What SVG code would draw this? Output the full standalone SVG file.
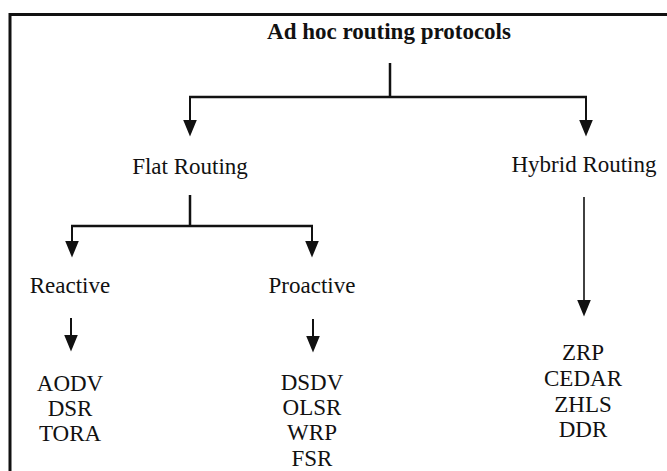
<svg xmlns="http://www.w3.org/2000/svg" width="667" height="471" viewBox="0 0 667 471">
  <style>
    .t { font-family: 'Liberation Serif', Tinos, 'Times New Roman', Times, 'Nimbus Roman', 'DejaVu Serif', serif; font-size: 23px; fill: #111; text-anchor: middle; }
    .b { font-weight: bold; }
    .ln { fill: none; stroke: #111; stroke-width: 2; marker-end: url(#ah); }
    .bar { fill: none; stroke: #111; stroke-width: 2.5; }
  </style>
  <defs>
    <!-- downward filled arrowhead; its base sits on the end of the line -->
    <marker id="ah" viewBox="0 0 14 17" markerWidth="14" markerHeight="17" refX="7" refY="0.5" orient="0" markerUnits="userSpaceOnUse">
      <path d="M0,0 L14,0 L7,17 Z" fill="#111"/>
    </marker>
  </defs>
  <rect width="667" height="471" fill="#fff"/>

  <!-- outer frame (runs off the right and bottom edges) -->
  <path d="M10,471 V14.5 H667" fill="none" stroke="#111" stroke-width="3"/>

  <g id="connectors">
    <!-- root to first level -->
    <path class="bar" d="M390,63 V97 M189,97 H587"/>
    <path class="ln" d="M190,96 V120"/>
    <path class="ln" d="M586,96 V120"/>
    <!-- flat routing split -->
    <path class="bar" d="M190,195 V226 M71,226 H313"/>
    <path class="ln" d="M72,225 V241"/>
    <path class="ln" d="M312,225 V241"/>
    <!-- hybrid routing -->
    <path class="ln" d="M584,197 V300" style="stroke-width:1.6"/>
    <!-- reactive / proactive -->
    <path class="ln" d="M71,318 V335"/>
    <path class="ln" d="M313,319 V336"/>
  </g>

  <g id="root"><text class="t b" x="389" y="39">Ad hoc routing protocols</text></g>
  <g id="flat"><text class="t" x="190" y="174">Flat Routing</text></g>
  <g id="hybrid"><text class="t" x="584" y="172">Hybrid Routing</text></g>
  <g id="reactive"><text class="t" x="70" y="293">Reactive</text></g>
  <g id="proactive"><text class="t" x="312" y="293">Proactive</text></g>

  <g id="reactive-list">
    <text class="t" x="70" y="391">AODV</text>
    <text class="t" x="70" y="416">DSR</text>
    <text class="t" x="70" y="441">TORA</text>
  </g>
  <g id="proactive-list">
    <text class="t" x="312" y="390">DSDV</text>
    <text class="t" x="312" y="415">OLSR</text>
    <text class="t" x="312" y="440">WRP</text>
    <text class="t" x="312" y="466">FSR</text>
  </g>
  <g id="hybrid-list">
    <text class="t" x="583" y="360">ZRP</text>
    <text class="t" x="583" y="386">CEDAR</text>
    <text class="t" x="583" y="412">ZHLS</text>
    <text class="t" x="583" y="437">DDR</text>
  </g>
</svg>
